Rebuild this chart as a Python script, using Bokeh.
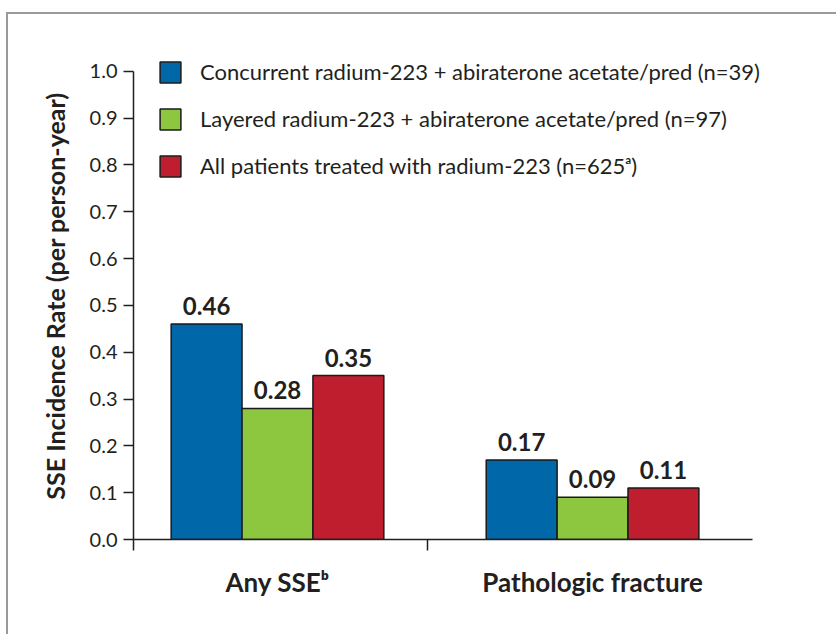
from bokeh.plotting import figure
from bokeh.models import (FixedTicker, Legend, LegendItem, ColumnDataSource,
                          NumeralTickFormatter)
from bokeh.embed import file_html
from bokeh.resources import INLINE
from bokeh.core.properties import value

# ---------------- data ----------------
categories = ["Any SSE\u1d47", "Pathologic fracture"]
series_names = [
    "Concurrent radium-223 + abiraterone acetate/pred (n=39)",
    "Layered radium-223 + abiraterone acetate/pred (n=97)",
    "All patients treated with radium-223 (n=625\u1d43)",
]
concurrent = [0.46, 0.17]
layered = [0.28, 0.09]
all_patients = [0.35, 0.11]
y_ticks = [0.0, 0.1, 0.2, 0.3, 0.4, 0.5, 0.6, 0.7, 0.8, 0.9, 1.0]

# ---------------- style ----------------
colors = ["#0067a9", "#8dc63f", "#be1e2d"]
FONT = "Lato"
TXT = "#231f20"
offsets = [-0.225, 0.0, 0.225]
bar_w = 0.225
x_start, x_axis_end, x_end = -0.457, 1.508, 1.66
mid_tick = 0.476

p = figure(width=836, height=634, x_range=(x_start, x_end), y_range=(0, 1.04),
           output_backend="svg", toolbar_location=None,
           min_border_left=133, min_border_right=36,
           min_border_top=52, min_border_bottom=95)
p.outline_line_color = None
p.xgrid.grid_line_color = None
p.ygrid.grid_line_color = None
p.background_fill_color = "white"
p.border_fill_color = "white"

cat_pos = list(range(len(categories)))
all_series = [concurrent, layered, all_patients]
renderers = []
for vals, off, col in zip(all_series, offsets, colors):
    src = ColumnDataSource(dict(
        x=[c + off for c in cat_pos],
        top=vals,
        lab=["%.2f" % v for v in vals],
    ))
    r = p.vbar(x="x", top="top", width=bar_w, bottom=0, source=src,
               fill_color=col, line_color="#1a1a1a", line_width=1.5)
    renderers.append(r)
    p.text(x="x", y="top", text="lab", source=src, text_align="center",
           text_baseline="bottom", y_offset=-9, text_font=value(FONT),
           text_font_style="bold", text_font_size="24px", text_color=TXT)

# x axis
xa = p.xaxis[0]
xa.bounds = (x_start, x_axis_end)
xa.ticker = FixedTicker(ticks=cat_pos, minor_ticks=[x_start, mid_tick])
xa.major_label_overrides = {i: c for i, c in zip(cat_pos, categories)}
xa.major_tick_line_color = None
xa.major_tick_in = 0
xa.major_tick_out = 0
xa.minor_tick_in = 0
xa.minor_tick_out = 11
xa.minor_tick_line_color = TXT
xa.minor_tick_line_width = 1.5
xa.axis_line_color = TXT
xa.axis_line_width = 1.5
xa.major_label_text_font = FONT
xa.major_label_text_font_style = "bold"
xa.major_label_text_font_size = "26px"
xa.major_label_text_color = TXT
xa.major_label_standoff = 15

# y axis
ya = p.yaxis[0]
ya.ticker = FixedTicker(ticks=y_ticks)
ya.bounds = (y_ticks[0], y_ticks[-1])
ya.formatter = NumeralTickFormatter(format="0.0")
ya.major_tick_in = 0
ya.major_tick_out = 10
ya.major_tick_line_color = TXT
ya.major_tick_line_width = 1.5
ya.minor_tick_line_color = None
ya.axis_line_color = TXT
ya.axis_line_width = 1.5
ya.major_label_text_font = FONT
ya.major_label_text_font_size = "20px"
ya.major_label_text_color = TXT
ya.major_label_standoff = 6
ya.axis_label = "SSE Incidence Rate (per person-year)"
ya.axis_label_text_font = FONT
ya.axis_label_text_font_style = "bold"
ya.axis_label_text_font_size = "25px"
ya.axis_label_text_color = TXT
ya.axis_label_standoff = 17

legend = Legend(
    items=[LegendItem(label=n, renderers=[r]) for n, r in zip(series_names, renderers)],
    location=(24, 360), glyph_width=26, glyph_height=26, label_height=26,
    spacing=20, label_standoff=17, padding=0, margin=0,
    border_line_color=None, background_fill_alpha=0,
    label_text_font=FONT, label_text_font_size="22px", label_text_color=TXT,
)
p.add_layout(legend)

# grey page frame (top and left edges visible, as in the source image)
p.stylesheets = [
    ":host::after { content: ''; position: absolute; left: 6px; top: 12px; "
    "width: 830px; height: 622px; box-sizing: border-box; "
    "border-left: 2px solid #9a9a9a; border-top: 2px solid #9a9a9a; "
    "pointer-events: none; z-index: 10; }"
]

open("out.html", "w").write(file_html(p, INLINE))
